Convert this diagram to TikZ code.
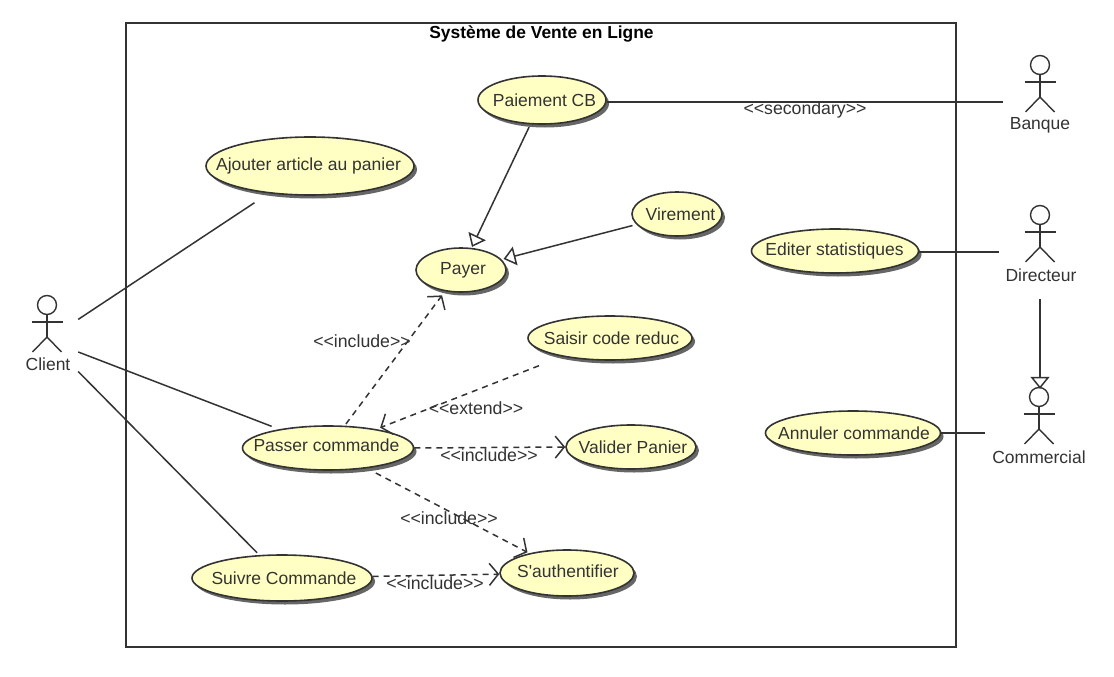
\documentclass[tikz,border=0pt]{standalone}
\usepackage{fontspec}
\setmainfont{Liberation Sans}
\usetikzlibrary{arrows.meta,shapes.geometric,shadows,calc}
\definecolor{ink}{HTML}{333333}
\definecolor{ucfill}{HTML}{FFFFC4}
\newcommand{\uct}[3]{\makebox[0pt]{\hspace*{#1pt}\raisebox{#2pt}{#3}}}
\newcommand{\stereo}[1]{<\kern0pt<#1>\kern0pt>}
\newcommand{\actorfig}[2]{%
  \begin{scope}[shift={(#1,#2)},actorline]
    \draw (0,0) circle (9.5);
    \draw (0,9.5) -- (0,32);
    \draw (-15.5,17) -- (15.5,17);
    \draw (-14.5,47) -- (0,32) -- (14.5,47);
  \end{scope}}
\tikzset{
  x=1pt,y=-1pt,
  every node/.style={font=\fontsize{17.5}{20}\selectfont,text=ink,inner sep=0pt},
  actorline/.style={draw=ink,line width=1.4pt},
  uc/.style={ellipse,draw=ink,fill=ucfill,line width=1.6pt,inner sep=0pt,
    drop shadow={shadow xshift=3pt,shadow yshift=-3.5pt,fill=black,opacity=.6}},
  actorbox/.style={rectangle,draw=none,fill=none,minimum width=#1,minimum height=94pt},
  assoc/.style={draw=ink,line width=1.5pt},
  genlink/.style={draw=ink,line width=1.5pt,-{Triangle[open,length=12pt,width=19pt,fill=white]}},
  deplink/.style={draw=ink,line width=1.5pt,dash pattern=on 6pt off 5pt,
    -{Straight Barb[length=9pt,width=22pt,line width=1.5pt]}},
  linklabel/.style={font=\fontsize{17.7}{20}\selectfont},
}
\begin{document}
\begin{tikzpicture}
\useasboundingbox (0,0) rectangle (1114,677);
\fill[white] (0,0) rectangle (1114,677);
\node[draw=ink,line width=1.6pt,minimum width=830pt,minimum height=624pt] (system) at (541,335) {};
\node[font=\fontsize{17.4}{20}\selectfont\bfseries,text=black] (title) at (541.5,34) {Système de Vente en Ligne};

% use cases
\node[uc,minimum width=128pt,minimum height=48pt] (paiement) at (542,100) {\uct{5}{0}{Paiement CB}};
\node[uc,minimum width=208pt,minimum height=58pt] (ajouter) at (310,166) {\uct{-3}{0}{Ajouter article au panier}};
\node[uc,minimum width=90pt,minimum height=44pt] (virement) at (677,214) {\uct{7}{0}{Virement}};
\node[uc,minimum width=90pt,minimum height=44pt] (payer) at (461,270) {\uct{4}{0}{Payer}};
\node[uc,minimum width=167pt,minimum height=44pt] (editer) at (835,251) {\uct{-1}{0}{Editer statistiques}};
\node[uc,minimum width=164pt,minimum height=44pt] (saisir) at (610,338) {\uct{3}{0}{Saisir code reduc}};
\node[uc,minimum width=171pt,minimum height=44pt] (passer) at (328,448) {\uct{-3}{5}{Passer commande}};
\node[uc,minimum width=130pt,minimum height=44pt] (valider) at (631,447) {\uct{4}{0}{Valider Panier}};
\node[uc,minimum width=175pt,minimum height=44pt] (annuler) at (853,433) {\uct{2}{0}{Annuler commande}};
\node[uc,minimum width=180pt,minimum height=46pt] (suivre) at (282,578) {\uct{4}{0}{Suivre Commande}};
\node[uc,minimum width=134pt,minimum height=46pt] (sauth) at (567,573) {\uct{2}{4}{S\textquotesingle authentifier}};

% actors
\node[actorbox=62pt] (client) at (47,340) {};
\actorfig{47}{305}
\node (clientlabel) at (48,364) {Client};
\node[actorbox=74pt] (banque) at (1040,102) {};
\actorfig{1040}{65}
\node (banquelabel) at (1040,125) {Banque};
\node[actorbox=82pt] (directeur) at (1040,252) {};
\actorfig{1040}{215}
\node (directeurlabel) at (1041,275) {Directeur};
\node[actorbox=108pt] (commercial) at (1039,433) {};
\actorfig{1039}{397}
\node (commerciallabel) at (1039,457) {Commercial};

% associations
\draw[assoc,shorten >=17pt] (client) -- (ajouter);
\draw[assoc,shorten >=8pt] (client) -- (passer);
\draw[assoc,shorten >=3pt] (client) -- (suivre);
\draw[assoc] (paiement.east |- banque.west) -- (banque.west);
\draw[assoc] (editer.east |- directeur.west) -- (directeur.west);
\draw[assoc] (annuler.east |- commercial.west) -- (commercial.west);

% generalisations
\draw[genlink,shorten <=3pt,shorten >=1pt] (paiement) -- (payer);
\draw[genlink,shorten <=4pt,shorten >=2pt] (virement) -- (payer);
\draw[genlink,shorten >=-3pt] (directeur.south) -- (directeur.south |- commercial.north);

% dependencies
\draw[deplink,shorten <=2pt,shorten >=5pt] (passer) -- (payer);
\draw[deplink,shorten <=25pt,shorten >=4pt] (saisir) -- (passer);
\draw[deplink] (passer.east) -- (valider.west);
\draw[deplink,shorten <=10pt,shorten >=2pt] (passer) -- (sauth);
\draw[deplink] (suivre) -- (sauth);

% labels
\node[linklabel] (l1) at (805,110) {\stereo{secondary}};
\node[linklabel] (l2) at (362,341) {\stereo{include}};
\node[linklabel] (l3) at (476,408) {\stereo{extend}};
\node[linklabel] (l4) at (489,455) {\stereo{include}};
\node[linklabel] (l5) at (449,518) {\stereo{include}};
\node[linklabel] (l6) at (435,583) {\stereo{include}};
\end{tikzpicture}
\end{document}
